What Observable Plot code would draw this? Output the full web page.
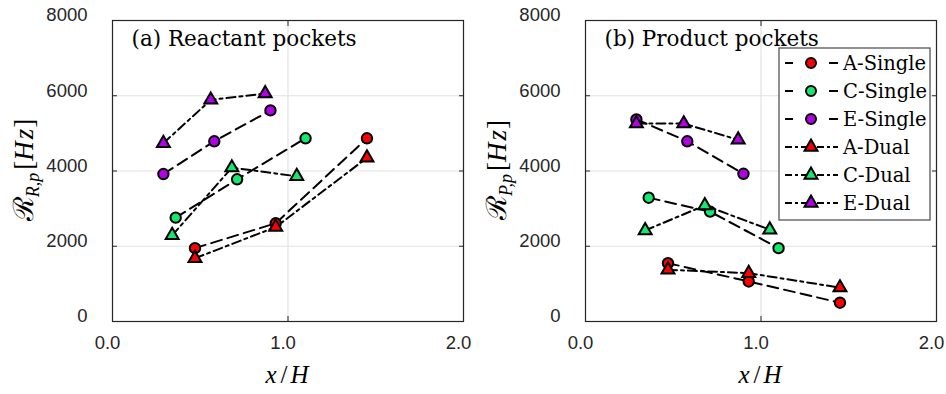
<!DOCTYPE html>
<html>
<head>
<meta charset="utf-8">
<script src="https://cdn.jsdelivr.net/npm/d3@7"></script>
<script src="https://cdn.jsdelivr.net/npm/@observablehq/plot@0.6"></script>
<style>
  body { margin: 0; background: #fff; }
  #wrap { position: relative; width: 946px; height: 394px; display: flex; }
  #wrap > svg { flex: none; }
</style>
</head>
<body>
<div id="wrap"></div>
<script>
// Pocket frequency versus downstream position, three configurations (A, C, E),
// single and dual pocket cases.
const seriesNames = ["A-Single", "C-Single", "E-Single", "A-Dual", "C-Dual", "E-Dual"];

// x/H stations for each series
const xA = [0.47, 0.93, 1.45];
const xCSingle = [0.36, 0.71, 1.10];
const xCDual = [0.34, 0.68, 1.05];
const xESingle = [0.29, 0.58, 0.90];
const xEDual = [0.29, 0.56, 0.87];

// (a) reactant pockets, Hz
const reactantASingle = [1950, 2610, 4870];
const reactantCSingle = [2760, 3780, 4870];
const reactantESingle = [3920, 4790, 5610];
const reactantADual = [1680, 2510, 4350];
const reactantCDual = [2290, 4090, 3860];
const reactantEDual = [4740, 5890, 6060];

// (b) product pockets, Hz
const productASingle = [1550, 1065, 500];
const productCSingle = [3290, 2920, 1950];
const productESingle = [5370, 4790, 3925];
const productADual = [1375, 1285, 900];
const productCDual = [2420, 3085, 2440];
const productEDual = [5260, 5260, 4830];

const xTicks = [0, 1, 2];
const yTicks = [0, 2000, 4000, 6000, 8000];

const seriesX = [xA, xCSingle, xESingle, xA, xCDual, xEDual];
const reactantY = [reactantASingle, reactantCSingle, reactantESingle, reactantADual, reactantCDual, reactantEDual];
const productY = [productASingle, productCSingle, productESingle, productADual, productCDual, productEDual];

// styling by configuration letter and pocket type
const colorOf = name => ({A: "#ff0000", C: "#14e86e", E: "#b400e8"})[name[0]];
const isDual = name => name.endsWith("Dual");
const DASH_SINGLE = "11,6";
const DASH_DUAL = "9,4,3,4";
const INK = "#262626";

function buildSeries(ys) {
  return seriesNames.map((name, i) => ({
    name,
    points: seriesX[i].map((x, j) => ({x, y: ys[i][j]}))
  }));
}

function panel(ys, title, sub) {
  const series = buildSeries(ys);
  const marks = [
    Plot.gridX(xTicks, {stroke: "#e2e2e2", strokeOpacity: 1, strokeWidth: 1.2}),
    Plot.gridY(yTicks, {stroke: "#e2e2e2", strokeOpacity: 1, strokeWidth: 1.2})
  ];
  for (const s of series) {
    const dual = isDual(s.name);
    marks.push(Plot.line(s.points, {
      x: "x", y: "y", stroke: "black", strokeWidth: 2,
      strokeDasharray: dual ? DASH_DUAL : DASH_SINGLE
    }));
    marks.push(Plot.dot(s.points, {
      x: "x", y: "y",
      symbol: dual ? "triangle" : "circle",
      r: dual ? 4.8 : 5.2,
      fill: colorOf(s.name), fillOpacity: 1,
      stroke: "black", strokeWidth: 2
    }));
  }
  marks.push(
    Plot.frame({stroke: INK, strokeWidth: 1.2}),
    // inward tick marks on all four sides
    Plot.axisX(xTicks, {anchor: "bottom", tickSize: -5, tickFormat: () => "", label: null, stroke: INK}),
    Plot.axisX(xTicks, {anchor: "top", tickSize: -5, tickFormat: () => "", label: null, stroke: INK}),
    Plot.axisY(yTicks, {anchor: "left", tickSize: -5, tickFormat: () => "", label: null, stroke: INK}),
    Plot.axisY(yTicks, {anchor: "right", tickSize: -5, tickFormat: () => "", label: null, stroke: INK}),
    // tick labels
    Plot.axisX(xTicks, {anchor: "bottom", tickSize: 0, tickPadding: 14, dx: -5,
      tickFormat: d3.format(".1f"), label: null, fontSize: 18.5, fill: INK}),
    Plot.axisY(yTicks, {anchor: "left", tickSize: 0, tickPadding: 25, dy: -5,
      tickFormat: d => String(d), label: null, fontSize: 18.5, fill: INK}),
    // panel title
    Plot.text([title], {frameAnchor: "top-left", dx: 19, dy: 10, fontSize: 21.5,
      fontFamily: "DejaVu Serif", fill: "black", textAnchor: "start", lineAnchor: "top"})
  );

  const svg = Plot.plot({
    width: 473, height: 394,
    marginLeft: 112, marginRight: 10, marginTop: 20, marginBottom: 73,
    style: {fontFamily: "Liberation Sans", background: "white", overflow: "visible"},
    x: {domain: [0, 2], label: null},
    y: {domain: [0, 8000], label: null},
    marks
  });

  const root = d3.select(svg);
  // x-axis label
  const xl = root.append("text")
    .attr("x", 287).attr("y", 383)
    .attr("text-anchor", "middle")
    .attr("font-family", "Liberation Serif")
    .attr("font-size", 25)
    .attr("fill", "black");
  xl.append("tspan").attr("font-style", "italic").text("x");
  xl.append("tspan").attr("dx", 4).text("/");
  xl.append("tspan").attr("dx", 3).attr("font-style", "italic").text("H");

  // y-axis label
  const yl = root.append("text")
    .attr("transform", "translate(33,170) rotate(-90)")
    .attr("text-anchor", "middle")
    .attr("font-family", "Liberation Serif")
    .attr("font-size", 27)
    .attr("fill", "black");
  yl.append("tspan").attr("font-family", "DejaVu Serif").attr("font-size", 28).text("ℛ");
  yl.append("tspan").attr("font-style", "italic").attr("font-size", 18).attr("dy", 6).text(sub);
  yl.append("tspan").attr("dy", -6).attr("dx", 3).text("[");
  yl.append("tspan").attr("font-style", "italic").text("H");
  yl.append("tspan").attr("font-style", "italic").attr("dx", 2).text("z");
  yl.append("tspan").attr("dx", 1).text("]");
  return svg;
}

const wrap = document.getElementById("wrap");
wrap.append(panel(reactantY, "(a) Reactant pockets", "R,p"));
wrap.append(panel(productY, "(b) Product pockets", "P,p"));

// legend box inside panel (b)
const leg = d3.select(wrap).append("svg")
  .attr("width", 154).attr("height", 175)
  .style("position", "absolute").style("left", "778px").style("top", "47px");
leg.append("rect").attr("x", 1).attr("y", 1).attr("width", 151).attr("height", 172)
  .attr("fill", "white").attr("stroke", "#555").attr("stroke-width", 1.3);
seriesNames.forEach((name, i) => {
  const cy = 16 + i * 28;
  const dual = isDual(name);
  const g = leg.append("g").attr("transform", `translate(0,${cy})`);
  if (dual) {
    g.append("line").attr("x1", 7).attr("x2", 60).attr("y1", 0).attr("y2", 0)
      .attr("stroke", "black").attr("stroke-width", 2).attr("stroke-dasharray", "7,3,3,3");
  } else {
    g.append("line").attr("x1", 7).attr("x2", 15).attr("y1", 0).attr("y2", 0)
      .attr("stroke", "black").attr("stroke-width", 2);
    g.append("line").attr("x1", 51).attr("x2", 60).attr("y1", 0).attr("y2", 0)
      .attr("stroke", "black").attr("stroke-width", 2);
  }
  const sym = d3.symbol(dual ? d3.symbolTriangle : d3.symbolCircle, Math.PI * (dual ? 4.8 * 4.8 : 5 * 5));
  g.append("path").attr("d", sym()).attr("transform", "translate(33,0)")
    .attr("fill", colorOf(name)).attr("stroke", "black").attr("stroke-width", 2);
  g.append("text").attr("x", 65).attr("y", 7)
    .attr("font-family", "DejaVu Serif").attr("font-size", 19.5).attr("fill", "black")
    .text(name);
});
</script>
</body>
</html>
